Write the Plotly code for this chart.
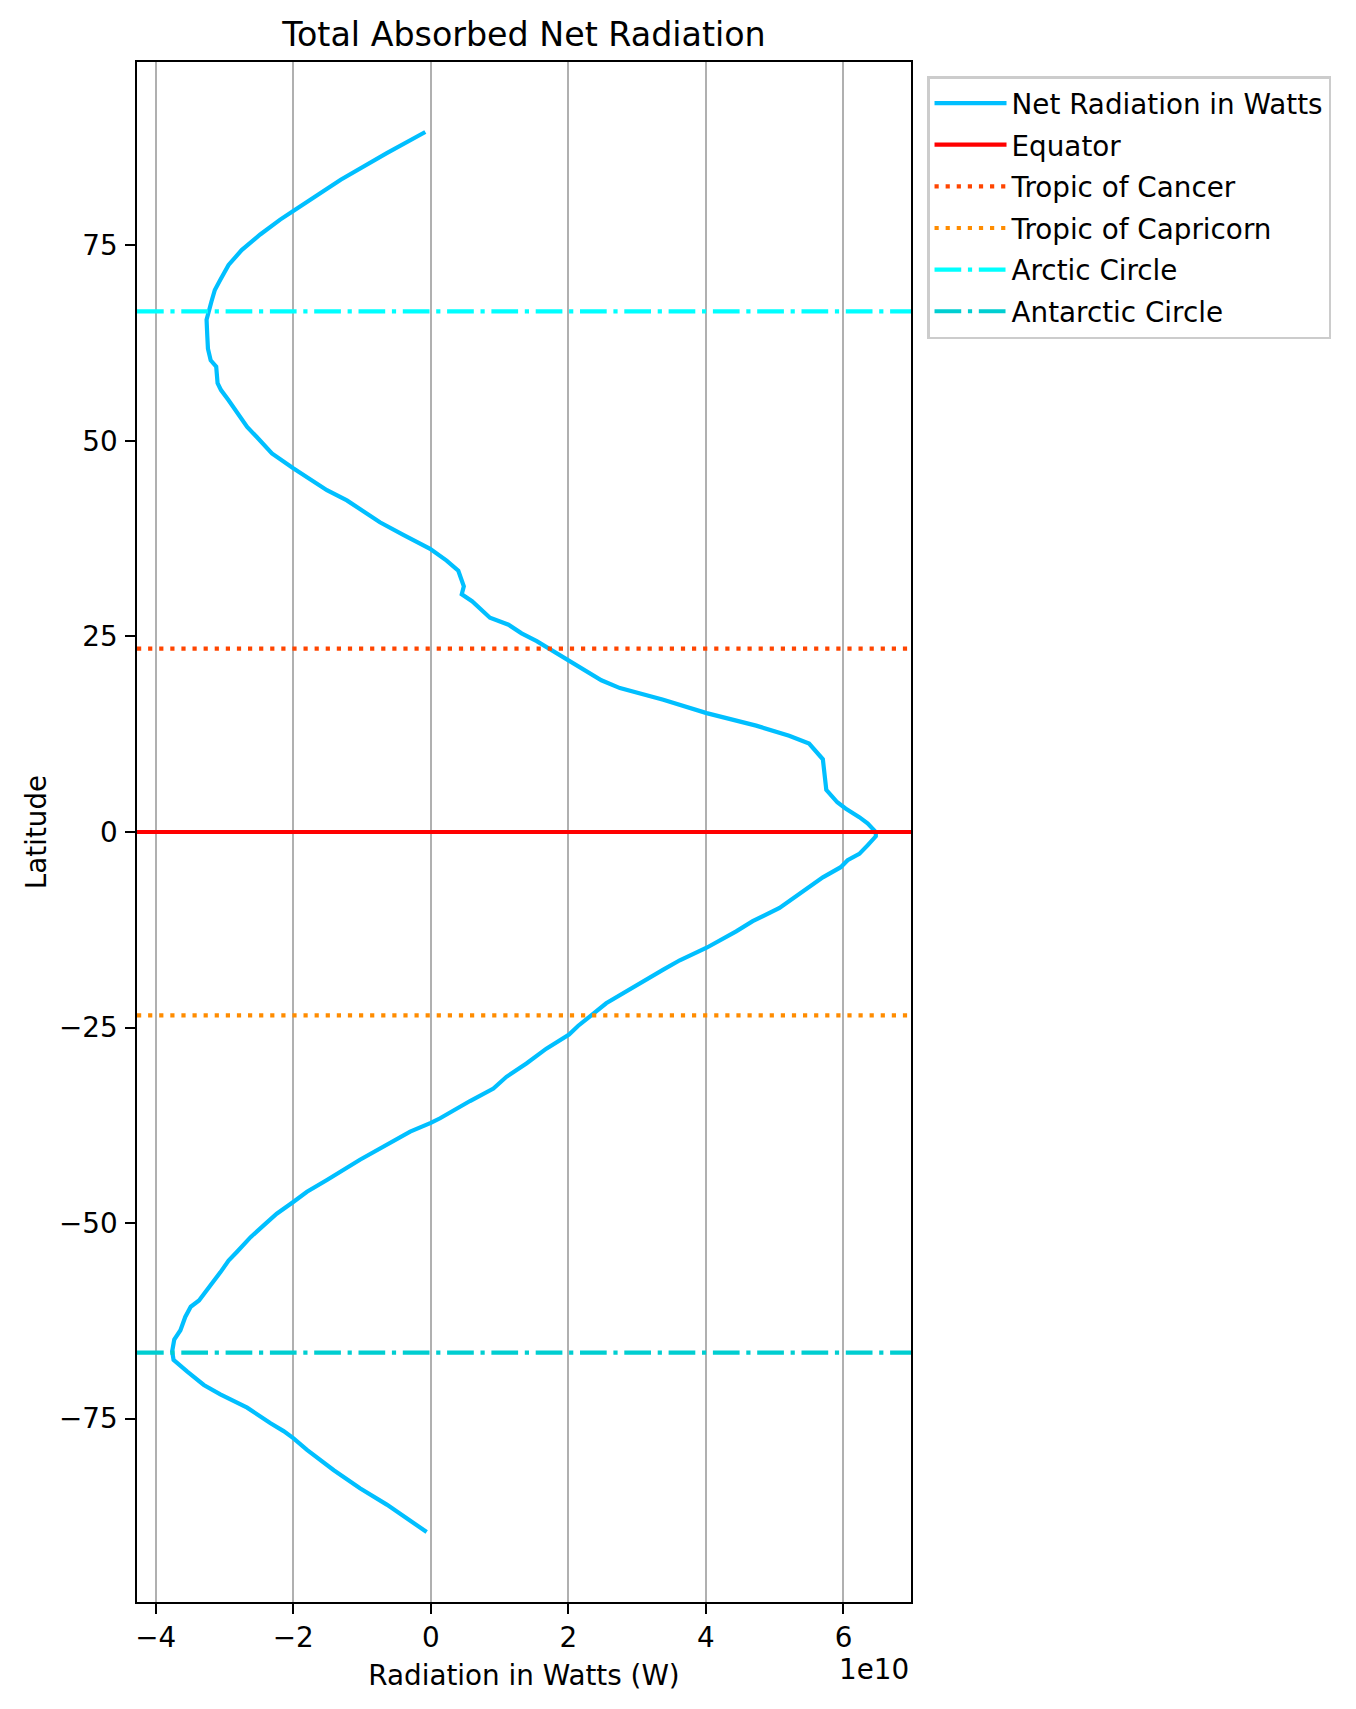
import plotly.graph_objects as go

# ---- data (radiation in units of 1e10 W) ----
SCALE = 1e10
latitude = [89.5, 86.8, 83.4, 81.5, 79.4, 78.3, 76.4, 74.4, 72.5, 70.6, 69.3, 67.8,
            65.5, 63.5, 61.8, 60.3, 59.5, 57.4, 56.5, 55.2, 53.3, 51.8, 50.5, 48.4,
            46.5, 43.7, 42.4, 39.6, 38.0, 36.2, 34.7, 33.4, 31.4, 30.4, 29.5, 27.4,
            26.5, 25.4, 24.4, 23.4, 21.8, 20.6, 19.4, 18.4, 16.9, 15.2, 13.6, 12.3,
            11.3, 9.3, 5.4, 3.8, 3.0, 1.9, 1.1, 0.0, -0.55, -1.7, -2.8, -3.6, -4.5,
            -5.8, -7.3, -8.9, -9.7, -11.4, -12.7, -14.8, -16.4, -17.6, -18.9, -19.8,
            -20.8, -21.9, -23.6, -24.8, -25.9, -27.7, -29.6, -31.3, -32.8, -34.4,
            -36.6, -37.2, -38.3, -40.0, -41.9, -44.5, -46.0, -47.3, -48.8, -50.3,
            -51.8, -53.7, -54.8, -56.3, -58.0, -59.9, -60.7, -62.0, -63.7, -64.9,
            -66.4, -67.5, -69.0, -70.7, -71.9, -73.6, -75.6, -76.6, -77.5, -79.0,
            -81.6, -83.9, -86.0, -87.7, -89.5]
net_radiation = [-0.08, -0.64, -1.31, -1.65, -2.00, -2.19, -2.48, -2.75, -2.94, -3.06, -3.14, -3.19,
                 -3.26, -3.25, -3.24, -3.20, -3.12, -3.10, -3.05, -2.94, -2.79, -2.67, -2.53, -2.31,
                 -2.00, -1.51, -1.22, -0.74, -0.40, -0.01, 0.23, 0.40, 0.48, 0.45, 0.60, 0.86,
                 1.13, 1.32, 1.54, 1.73, 2.01, 2.26, 2.48, 2.75, 3.38, 4.01, 4.73, 5.21,
                 5.50, 5.70, 5.75, 5.91, 6.03, 6.23, 6.35, 6.47, 6.47, 6.35, 6.23, 6.06, 5.96,
                 5.70, 5.46, 5.21, 5.07, 4.68, 4.44, 4.01, 3.62, 3.38, 3.13, 2.94,
                 2.75, 2.55, 2.31, 2.14, 2.01, 1.68, 1.39, 1.10, 0.91, 0.57,
                 0.135, 0.0, -0.30, -0.64, -1.03, -1.51, -1.80, -2.00, -2.24, -2.43,
                 -2.62, -2.82, -2.94, -3.06, -3.20, -3.37, -3.49, -3.57, -3.64, -3.73,
                 -3.76, -3.74, -3.54, -3.30, -3.06, -2.67, -2.33, -2.14, -2.00, -1.80,
                 -1.41, -1.03, -0.64, -0.35, -0.06]

ref_names = ["Equator", "Tropic of Cancer", "Tropic of Capricorn", "Arctic Circle", "Antarctic Circle"]
ref_lats = [0.0, 23.44, -23.44, 66.56, -66.56]
ref_colors = ["#FF0000", "#FF4500", "#FF8C00", "#00FFFF", "#00CED1"]
ref_dash = ["solid", "4.2px,6.9px", "4.2px,6.9px", "26.7px,6.7px,4.2px,6.7px", "26.7px,6.7px,4.2px,6.7px"]

x_tick_units = [-4, -2, 0, 2, 4, 6]
x_tick_labels = ["\u22124", "\u22122", "0", "2", "4", "6"]
y_tick_vals = [-75, -50, -25, 0, 25, 50, 75]
y_tick_labels = ["\u221275", "\u221250", "\u221225", "0", "25", "50", "75"]

# ---- figure ----
FONT = "DejaVu Sans"
x_watts = [v * SCALE for v in net_radiation]
xmin, xmax = min(x_watts), max(x_watts)
pad_x = 0.05 * (xmax - xmin)
ymin, ymax = min(latitude), max(latitude)
pad_y = 0.05 * (ymax - ymin)

# the page body has an 8px margin; compensate so the plot sits where the reference has it
W, H = 1348, 1701
ML, MR, MT, MB = 129, 445, 54, 107
PH = H - MT - MB

fig = go.Figure()
fig.add_trace(go.Scatter(
    x=x_watts, y=latitude, mode="lines", name="Net Radiation in Watts",
    line=dict(color="#00BFFF", width=4.2), legendrank=1, legendgroup="g0",
))

for i, (nm, lat, col, dash) in enumerate(zip(ref_names, ref_lats, ref_colors, ref_dash)):
    fig.add_shape(
        type="line", xref="x domain", x0=0, x1=1, yref="y", y0=lat, y1=lat,
        line=dict(color=col, width=4.2, dash=dash),
        showlegend=True, name=nm, legendrank=i + 2, legendgroup=f"g{i+1}",
    )

fig.update_layout(
    width=W, height=H,
    margin=dict(l=ML, r=MR, t=MT, b=MB),
    paper_bgcolor="white", plot_bgcolor="white",
    font=dict(family=FONT, size=27.8, color="black"),
    title=dict(text="Total Absorbed Net Radiation", font=dict(family=FONT, size=33.3, color="black"),
               x=(ML + (W - MR)) / 2 / W, xanchor="center", y=1 - 26 / H, yanchor="middle"),
    showlegend=True,
    legend=dict(
        x=1.0207, xanchor="left", y=1 - 14 / PH, yanchor="top",
        bgcolor="rgba(255,255,255,0.8)", bordercolor="#cccccc", borderwidth=2.5,
        font=dict(family=FONT, size=27.8, color="black"),
        tracegroupgap=2.5, traceorder="grouped", itemwidth=72,
    ),
)

fig.update_xaxes(
    range=[xmin - pad_x, xmax + pad_x],
    tickvals=[t * SCALE for t in x_tick_units], ticktext=x_tick_labels,
    ticks="outside", ticklen=9.7, tickwidth=2.2, tickcolor="black",
    showline=True, linecolor="black", linewidth=2.2, mirror=True,
    showgrid=True, gridcolor="#b0b0b0", gridwidth=2.2, zeroline=False,
    tickfont=dict(family=FONT, size=27.8, color="black"),
    title=dict(text="Radiation in Watts (W)", font=dict(family=FONT, size=27.8, color="black"), standoff=12),
)
fig.update_yaxes(
    range=[ymin - pad_y, ymax + pad_y],
    tickvals=y_tick_vals, ticktext=y_tick_labels,
    ticks="outside", ticklen=9.7, tickwidth=2.2, tickcolor="black",
    showline=True, linecolor="black", linewidth=2.2, mirror=True,
    showgrid=False, zeroline=False, ticklabelstandoff=2,
    tickfont=dict(family=FONT, size=27.8, color="black"),
    title=dict(text="Latitude", font=dict(family=FONT, size=27.8, color="black"), standoff=4),
)

fig.add_annotation(
    text="1e10", xref="paper", yref="paper", x=1, y=-(68) / PH,
    xanchor="right", yanchor="middle", showarrow=False,
    font=dict(family=FONT, size=27.8, color="black"),
)

fig.write_html("out.html")
